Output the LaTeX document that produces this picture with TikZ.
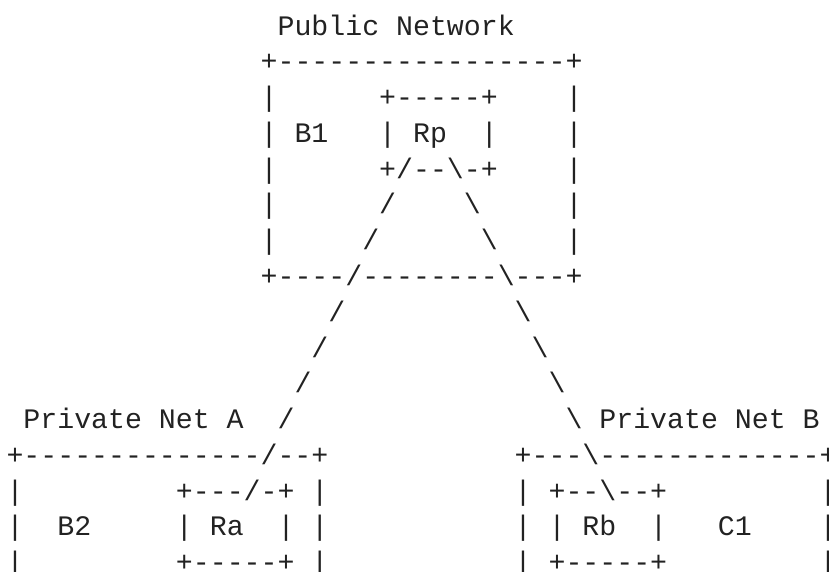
\documentclass[tikz,border=0pt]{standalone}
\usepackage{fontspec}
\setmonofont{Liberation Mono}
\definecolor{ink}{RGB}{34,34,34}
\newcommand{\bs}{\textbackslash}
\tikzset{
  txt/.style={anchor=base west, inner sep=0pt, outer sep=0pt, text=ink,
    font=\ttfamily\fontsize{28.23pt}{35.78pt}\selectfont}
}
\begin{document}
\begin{tikzpicture}[x=16.94pt, y=-35.78pt]
\useasboundingbox (0pt,0pt) rectangle (829pt,-571pt);
\clip (0pt,0pt) rectangle (829pt,-571pt);
\begin{scope}[shift={(6.53pt,-35pt)}]
% Public network
\node[txt] (pub) at (16,0) {Public Network};
\node[txt] (r1) at (15,1) {+-----------------+};
\node[txt] (r2) at (15,2) {|~~~~~~+-----+~~~~|};
\node[txt] (r3) at (15,3) {|~B1~~~|~Rp~~|~~~~|};
\node[txt] (r4) at (15,4) {|~~~~~~+/--\bs-+~~~~|};
\node[txt] (r5) at (15,5) {|~~~~~~/~~~~\bs~~~~~|};
\node[txt] (r6) at (15,6) {|~~~~~/~~~~~~\bs~~~~|};
\node[txt] (r7) at (15,7) {+----/--------\bs---+};
% links
\node[txt] (l8a) at (19,8) {/};
\node[txt] (l8b) at (30,8) {\bs};
\node[txt] (l9a) at (18,9) {/};
\node[txt] (l9b) at (31,9) {\bs};
\node[txt] (l10a) at (17,10) {/};
\node[txt] (l10b) at (32,10) {\bs};
% private nets
\node[txt] (pna) at (1,11) {Private Net A~~/};
\node[txt] (pnb) at (33,11) {\bs~Private Net B};
\node[txt] (a12) at (0,12) {+--------------/--+};
\node[txt] (b12) at (30,12) {+---\bs-------------+};
\node[txt] (a13) at (0,13) {|~~~~~~~~~+---/-+~|};
\node[txt] (b13) at (30,13) {|~+--\bs--+~~~~~~~~~|};
\node[txt] (a14) at (0,14) {|~~B2~~~~~|~Ra~~|~|};
\node[txt] (b14) at (30,14) {|~|~Rb~~|~~~C1~~~~|};
\node[txt] (a15) at (0,15) {|~~~~~~~~~+-----+~|};
\node[txt] (b15) at (30,15) {|~+-----+~~~~~~~~~|};
\end{scope}
\end{tikzpicture}
\end{document}
